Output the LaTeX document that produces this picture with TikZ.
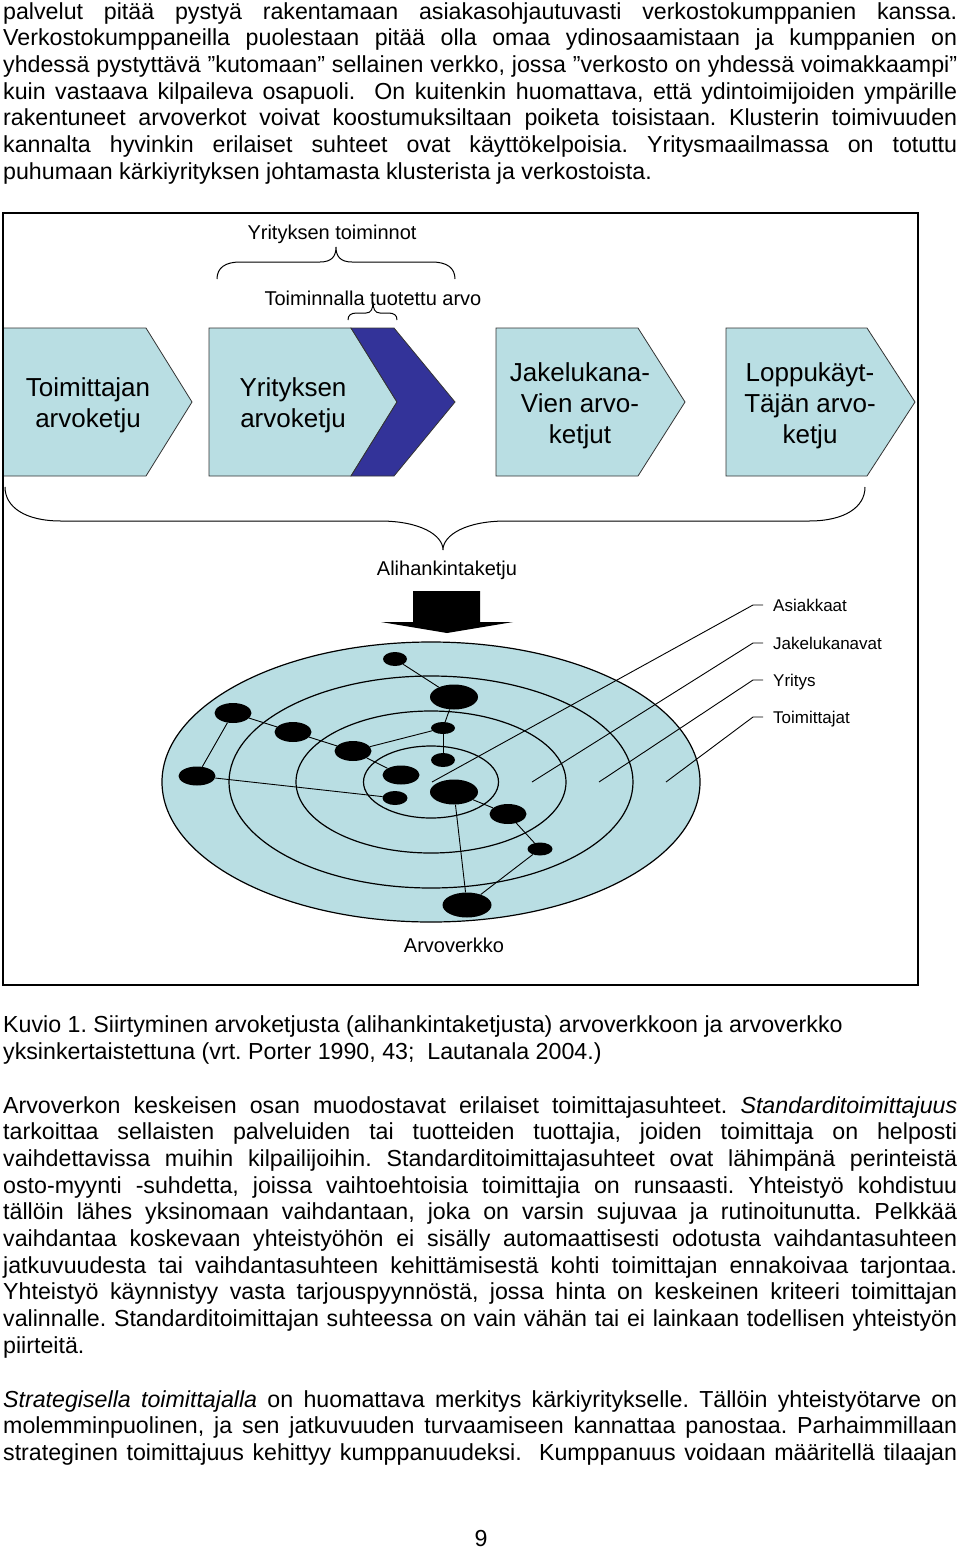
\documentclass[tikz,border=0pt]{standalone}
\usepackage{fontspec}
\setmainfont{Liberation Sans}
\usetikzlibrary{shapes.geometric}
\definecolor{boxblue}{RGB}{185,222,227}
\definecolor{navyblue}{RGB}{51,51,153}
\frenchspacing
\newcommand\bodyfont{\fontsize{23.2}{26.7}\selectfont}
\newcommand\jline[3]{\node[bodytxt] (#1) at (3,#2) {\makebox[954pt][s]{#3}};}
\newcommand\rline[3]{\node[bodytxt] (#1) at (3,#2) {#3};}
\begin{document}
\begin{tikzpicture}[x=1pt,y=-1pt,
  bodytxt/.style={anchor=base west,inner sep=0pt,font=\bodyfont},
  chev/.style={fill=boxblue,draw=black!80,line width=0.8pt,line join=miter},
  chevdark/.style={fill=navyblue,draw=black!80,line width=0.8pt},
  boxtxt/.style={align=center,inner sep=0pt,font=\fontsize{26}{31}\selectfont},
  labtxt/.style={anchor=base,inner sep=0pt,font=\fontsize{20}{24}\selectfont},
  brc/.style={draw=black,line width=1pt},
  ring/.style={draw=black,line width=1.2pt},
  dot/.style={ellipse,fill=black,inner sep=0pt},
  sdot/.style={dot,minimum width=24pt,minimum height=14pt},
  mdot/.style={dot,minimum width=37pt,minimum height=20pt},
  ldot/.style={dot,minimum width=48pt,minimum height=25pt},
  link/.style={draw=black,line width=0.9pt},
  ringlab/.style={anchor=west,inner xsep=10pt,inner ysep=0pt,text height=12pt,text depth=0pt,font=\fontsize{17}{20}\selectfont}
]
\useasboundingbox (0,0) rectangle (960,1550);

% ---------- paragraph 1 ----------
\jline{p1}{19}{palvelut pitää pystyä rakentamaan asiakasohjautuvasti verkostokumppanien kanssa.}
\jline{p2}{45.7}{Verkostokumppaneilla puolestaan pitää olla omaa ydinosaamistaan ja kumppanien on}
\jline{p3}{72.4}{yhdessä pystyttävä ”kutomaan” sellainen verkko, jossa ”verkosto on yhdessä voimakkaampi”}
\jline{p4}{99.1}{kuin vastaava kilpaileva osapuoli. \ On kuitenkin huomattava, että ydintoimijoiden ympärille}
\jline{p5}{125.8}{rakentuneet arvoverkot voivat koostumuksiltaan poiketa toisistaan. Klusterin toimivuuden}
\jline{p6}{152.5}{kannalta hyvinkin erilaiset suhteet ovat käyttökelpoisia. Yritysmaailmassa on totuttu}
\rline{p7}{179.2}{puhumaan kärkiyrityksen johtamasta klusterista ja verkostoista.}

% ---------- figure ----------
\path[chev] (3,328) -- (146,328) -- (192,402) -- (146,476) -- (3,476) -- cycle;
\path[chev] (209,328) -- (351,328) -- (397,402) -- (351,476) -- (209,476) -- cycle;
\path[chevdark] (351,328) -- (394,328) -- (455,402) -- (394,476) -- (351,476) -- (397,402) -- cycle;
\path[chev] (496,328) -- (638,328) -- (685,402) -- (638,476) -- (496,476) -- cycle;
\path[chev] (726,328) -- (867,328) -- (915,402) -- (867,476) -- (726,476) -- cycle;

\node[boxtxt] (b1) at (88,405) {Toimittajan\\arvoketju};
\node[boxtxt] (b2) at (293,405) {Yrityksen\\arvoketju};
\node[boxtxt] (b3) at (580,406) {Jakelukana-\\Vien arvo-\\ketjut};
\node[boxtxt] (b4) at (810,406) {Loppukäyt-\\Täjän arvo-\\ketju};

% braces
\node[labtxt] (yt) at (332,239) {Yrityksen toiminnot};
\draw[brc] (217,279) .. controls (217,268) and (225,262) .. (240,262) -- (320,262)
  .. controls (332,262) and (336,256) .. (336,247)
  .. controls (336,256) and (340,262) .. (352,262) -- (432,262)
  .. controls (447,262) and (455,268) .. (455,279);
\node[labtxt] (tt) at (373,305) {Toiminnalla tuotettu arvo};
\draw[brc] (348,320) .. controls (348,315) and (351,313) .. (357,313) -- (366,313)
  .. controls (371,313) and (373,309) .. (373,302)
  .. controls (373,309) and (375,313) .. (380,313) -- (388,313)
  .. controls (394,313) and (397,315) .. (397,320);
\draw[brc] (5,487) .. controls (5,507) and (25,521) .. (61,521) -- (380,521)
  .. controls (420,521) and (443,535) .. (443,550)
  .. controls (443,535) and (466,521) .. (506,521) -- (809,521)
  .. controls (845,521) and (865,507) .. (865,487);
\node[labtxt] (ah) at (447,575) {Alihankintaketju};

% block arrow
\fill[black] (413,591) -- (480,591) -- (480,622) -- (513,622) -- (447,633) -- (381,622) -- (413,622) -- cycle;

% rings
\draw[ring,fill=boxblue] (431,782) ellipse [x radius=269pt, y radius=140pt];
\draw[ring] (431,782) ellipse [x radius=202pt, y radius=106pt];
\draw[ring] (431,782) ellipse [x radius=135pt, y radius=71pt];
\draw[ring] (431,782) ellipse [x radius=67.5pt, y radius=36pt];

% dots
\node[sdot] (d1) at (395,659) {};
\node[ldot] (d2) at (454,697) {};
\node[mdot] (d3) at (233,713) {};
\node[mdot] (d4) at (293,732) {};
\node[sdot,minimum height=12pt] (d5) at (443,728) {};
\node[mdot] (d6) at (353,751) {};
\node[sdot] (d7) at (443,760) {};
\node[mdot,minimum height=19pt] (d8) at (197,776) {};
\node[mdot,minimum height=19pt] (d9) at (401,775) {};
\node[sdot,minimum width=25pt] (d10) at (395,798) {};
\node[ldot] (d11) at (454,792) {};
\node[mdot] (d12) at (508,814) {};
\node[sdot,minimum width=25pt,minimum height=13pt] (d13) at (540,849) {};
\node[ldot,minimum width=49pt] (d14) at (467,905) {};

\draw[link] (d1) -- (d2);
\draw[link] (d2) -- (d5);
\draw[link] (d5) -- (d7);
\draw[link] (d5) -- (d6);
\draw[link] (d3) -- (d4);
\draw[link] (d4) -- (d6);
\draw[link] (d3) -- (d8);
\draw[link] (d6) -- (d9);
\draw[link] (d8) -- (d10);
\draw[link] (d11) -- (d12);
\draw[link] (d12) -- (d13);
\draw[link] (d11) -- (d14);
\draw[link] (d13) -- (d14);

% ring labels
\coordinate (s1) at (432,782);
\coordinate (s2) at (532,782);
\coordinate (s3) at (599,782);
\coordinate (s4) at (666,782);
\node[ringlab] (l1) at (763,605) {Asiakkaat};
\node[ringlab] (l2) at (763,643) {Jakelukanavat};
\node[ringlab] (l3) at (763,680) {Yritys};
\node[ringlab] (l4) at (763,717) {Toimittajat};
\draw[link] (s1) -- ([xshift=-10pt]l1.west) -- (l1.west);
\draw[link] (s2) -- ([xshift=-10pt]l2.west) -- (l2.west);
\draw[link] (s3) -- ([xshift=-10pt]l3.west) -- (l3.west);
\draw[link] (s4) -- ([xshift=-10pt]l4.west) -- (l4.west);

\node[labtxt] (av) at (454,952) {Arvoverkko};

% frame
\draw[line width=1.3pt] (3,213) rectangle (918,985);

% ---------- caption ----------
\rline{c1}{1032}{Kuvio 1. Siirtyminen arvoketjusta (alihankintaketjusta) arvoverkkoon ja arvoverkko}
\rline{c2}{1059}{yksinkertaistettuna (vrt. Porter 1990, 43; \ Lautanala 2004.)}

% ---------- paragraph 2 ----------
\jline{q1}{1113}{Arvoverkon keskeisen osan muodostavat erilaiset toimittajasuhteet. \textit{Standarditoimittajuus}}
\jline{q2}{1139.7}{tarkoittaa sellaisten palveluiden tai tuotteiden tuottajia, joiden toimittaja on helposti}
\jline{q3}{1166.4}{vaihdettavissa muihin kilpailijoihin. Standarditoimittajasuhteet ovat lähimpänä perinteistä}
\jline{q4}{1193.1}{osto-myynti -suhdetta, joissa vaihtoehtoisia toimittajia on runsaasti. Yhteistyö kohdistuu}
\jline{q5}{1219.8}{tällöin lähes yksinomaan vaihdantaan, joka on varsin sujuvaa ja rutinoitunutta. Pelkkää}
\jline{q6}{1246.5}{vaihdantaa koskevaan yhteistyöhön ei sisälly automaattisesti odotusta vaihdantasuhteen}
\jline{q7}{1273.2}{jatkuvuudesta tai vaihdantasuhteen kehittämisestä kohti toimittajan ennakoivaa tarjontaa.}
\jline{q8}{1299.9}{Yhteistyö käynnistyy vasta tarjouspyynnöstä, jossa hinta on keskeinen kriteeri toimittajan}
\jline{q9}{1326.6}{valinnalle. Standarditoimittajan suhteessa on vain vähän tai ei lainkaan todellisen yhteistyön}
\rline{q10}{1353.3}{piirteitä.}

% ---------- paragraph 3 ----------
\jline{r1}{1407}{\textit{Strategisella toimittajalla} on huomattava merkitys kärkiyritykselle. Tällöin yhteistyötarve on}
\jline{r2}{1433.7}{molemminpuolinen, ja sen jatkuvuuden turvaamiseen kannattaa panostaa. Parhaimmillaan}
\jline{r3}{1460.4}{strateginen toimittajuus kehittyy kumppanuudeksi. \ Kumppanuus voidaan määritellä tilaajan}

\node[bodytxt,anchor=base] (pg) at (481,1546) {9};
\end{tikzpicture}
\end{document}
